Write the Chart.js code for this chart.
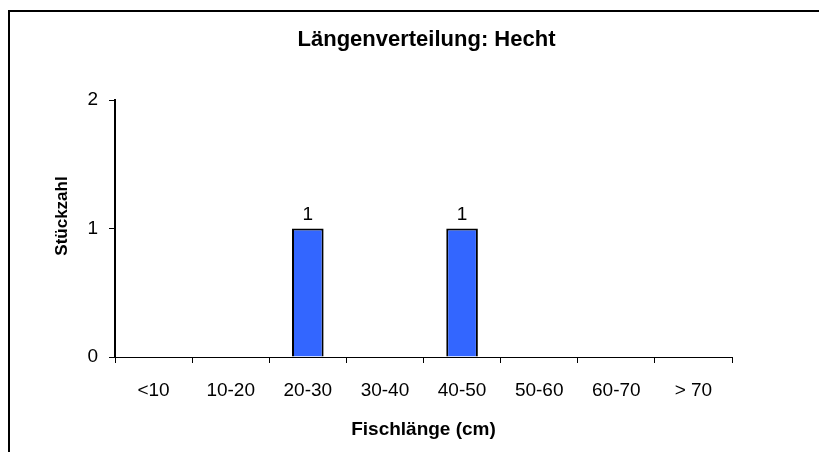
<!DOCTYPE html>
<html>
<head>
<meta charset="utf-8">
<script src="https://cdn.jsdelivr.net/npm/chart.js@4.4.0/dist/chart.umd.min.js"></script>
<style>
  html, body { margin: 0; padding: 0; background: #ffffff; }
  #wrap { width: 819px; height: 452px; }
</style>
</head>
<body>
<div id="wrap"><canvas id="c" width="819" height="452"></canvas></div>
<script>
// Length classes and catch counts
const categories = ['<10', '10-20', '20-30', '30-40', '40-50', '50-60', '60-70', '> 70'];
const counts = [0, 0, 1, 0, 1, 0, 0, 0];
const yTicks = [0, 1, 2];

const chartTitle = 'Längenverteilung: Hecht';
const xTitle = 'Fischlänge (cm)';
const yTitle = 'Stückzahl';

const FONT = '"Liberation Sans", Arial, sans-serif';

// White page with a black frame along the top and left edges
const framePlugin = {
  id: 'frame',
  beforeDraw(chart) {
    const ctx = chart.ctx;
    ctx.save();
    ctx.fillStyle = '#ffffff';
    ctx.fillRect(0, 0, chart.width, chart.height);
    ctx.strokeStyle = '#000000';
    ctx.lineWidth = 2;
    ctx.strokeRect(9, 11, chart.width + 20, chart.height + 20);
    ctx.restore();
  }
};

// Chart title, value labels above non-zero bars, and the rotated y-axis title
const labelPlugin = {
  id: 'labels',
  afterDatasetsDraw(chart) {
    const ctx = chart.ctx;
    const meta = chart.getDatasetMeta(0);
    ctx.save();
    ctx.fillStyle = '#000000';
    ctx.font = '19px ' + FONT;
    ctx.textAlign = 'center';
    ctx.textBaseline = 'alphabetic';
    meta.data.forEach((bar, i) => {
      const v = counts[i];
      if (v > 0) ctx.fillText(String(v), bar.x, bar.y - 9);
    });
    ctx.restore();
  },
  afterDraw(chart) {
    const ctx = chart.ctx;
    const area = chart.chartArea;
    ctx.save();
    ctx.fillStyle = '#000000';
    ctx.textAlign = 'center';
    ctx.textBaseline = 'middle';

    ctx.font = 'bold 22px ' + FONT;
    ctx.fillText(chartTitle, (area.left + area.right) / 2 + 3, 40);

    ctx.font = 'bold 17px ' + FONT;
    ctx.translate(62, 216);
    ctx.rotate(-Math.PI / 2);
    ctx.fillText(yTitle, 0, 0);
    ctx.restore();
  }
};

new Chart(document.getElementById('c'), {
  type: 'bar',
  data: {
    labels: categories,
    datasets: [{
      data: counts,
      backgroundColor: '#3366ff',
      borderColor: '#000000',
      borderWidth: { top: 2, left: 2, right: 2, bottom: 0 },
      borderSkipped: false,
      barPercentage: 0.41,
      categoryPercentage: 1.0
    }]
  },
  options: {
    responsive: false,
    animation: false,
    devicePixelRatio: 1,
    layout: { padding: { top: 100, left: 20, right: 87, bottom: 0 } },
    plugins: {
      legend: { display: false },
      tooltip: { enabled: false },
      title: { display: false }
    },
    scales: {
      x: {
        offset: true,
        grid: {
          offset: true,
          drawOnChartArea: false,
          drawTicks: true,
          tickLength: 6,
          color: '#000000',
          lineWidth: 1
        },
        border: { display: true, color: '#000000', width: 1 },
        ticks: {
          color: '#000000',
          font: { family: FONT, size: 19 },
          padding: 16,
          maxRotation: 0,
          autoSkip: false
        },
        title: {
          display: true,
          text: xTitle,
          color: '#000000',
          font: { family: FONT, size: 19, weight: 'bold' },
          padding: { top: 0, bottom: 11 }
        },
        afterFit(scale) { scale.height = 95; }
      },
      y: {
        min: 0,
        max: 2,
        afterBuildTicks(scale) { scale.ticks = yTicks.map(v => ({ value: v })); },
        grid: {
          drawOnChartArea: false,
          drawTicks: true,
          tickLength: 6,
          color: '#000000',
          lineWidth: 1
        },
        border: { display: true, color: '#000000', width: 2 },
        ticks: {
          color: '#000000',
          font: { family: FONT, size: 19 },
          padding: 11
        },
        afterFit(scale) { scale.width = 95; }
      }
    }
  },
  plugins: [framePlugin, labelPlugin]
});
</script>
</body>
</html>
